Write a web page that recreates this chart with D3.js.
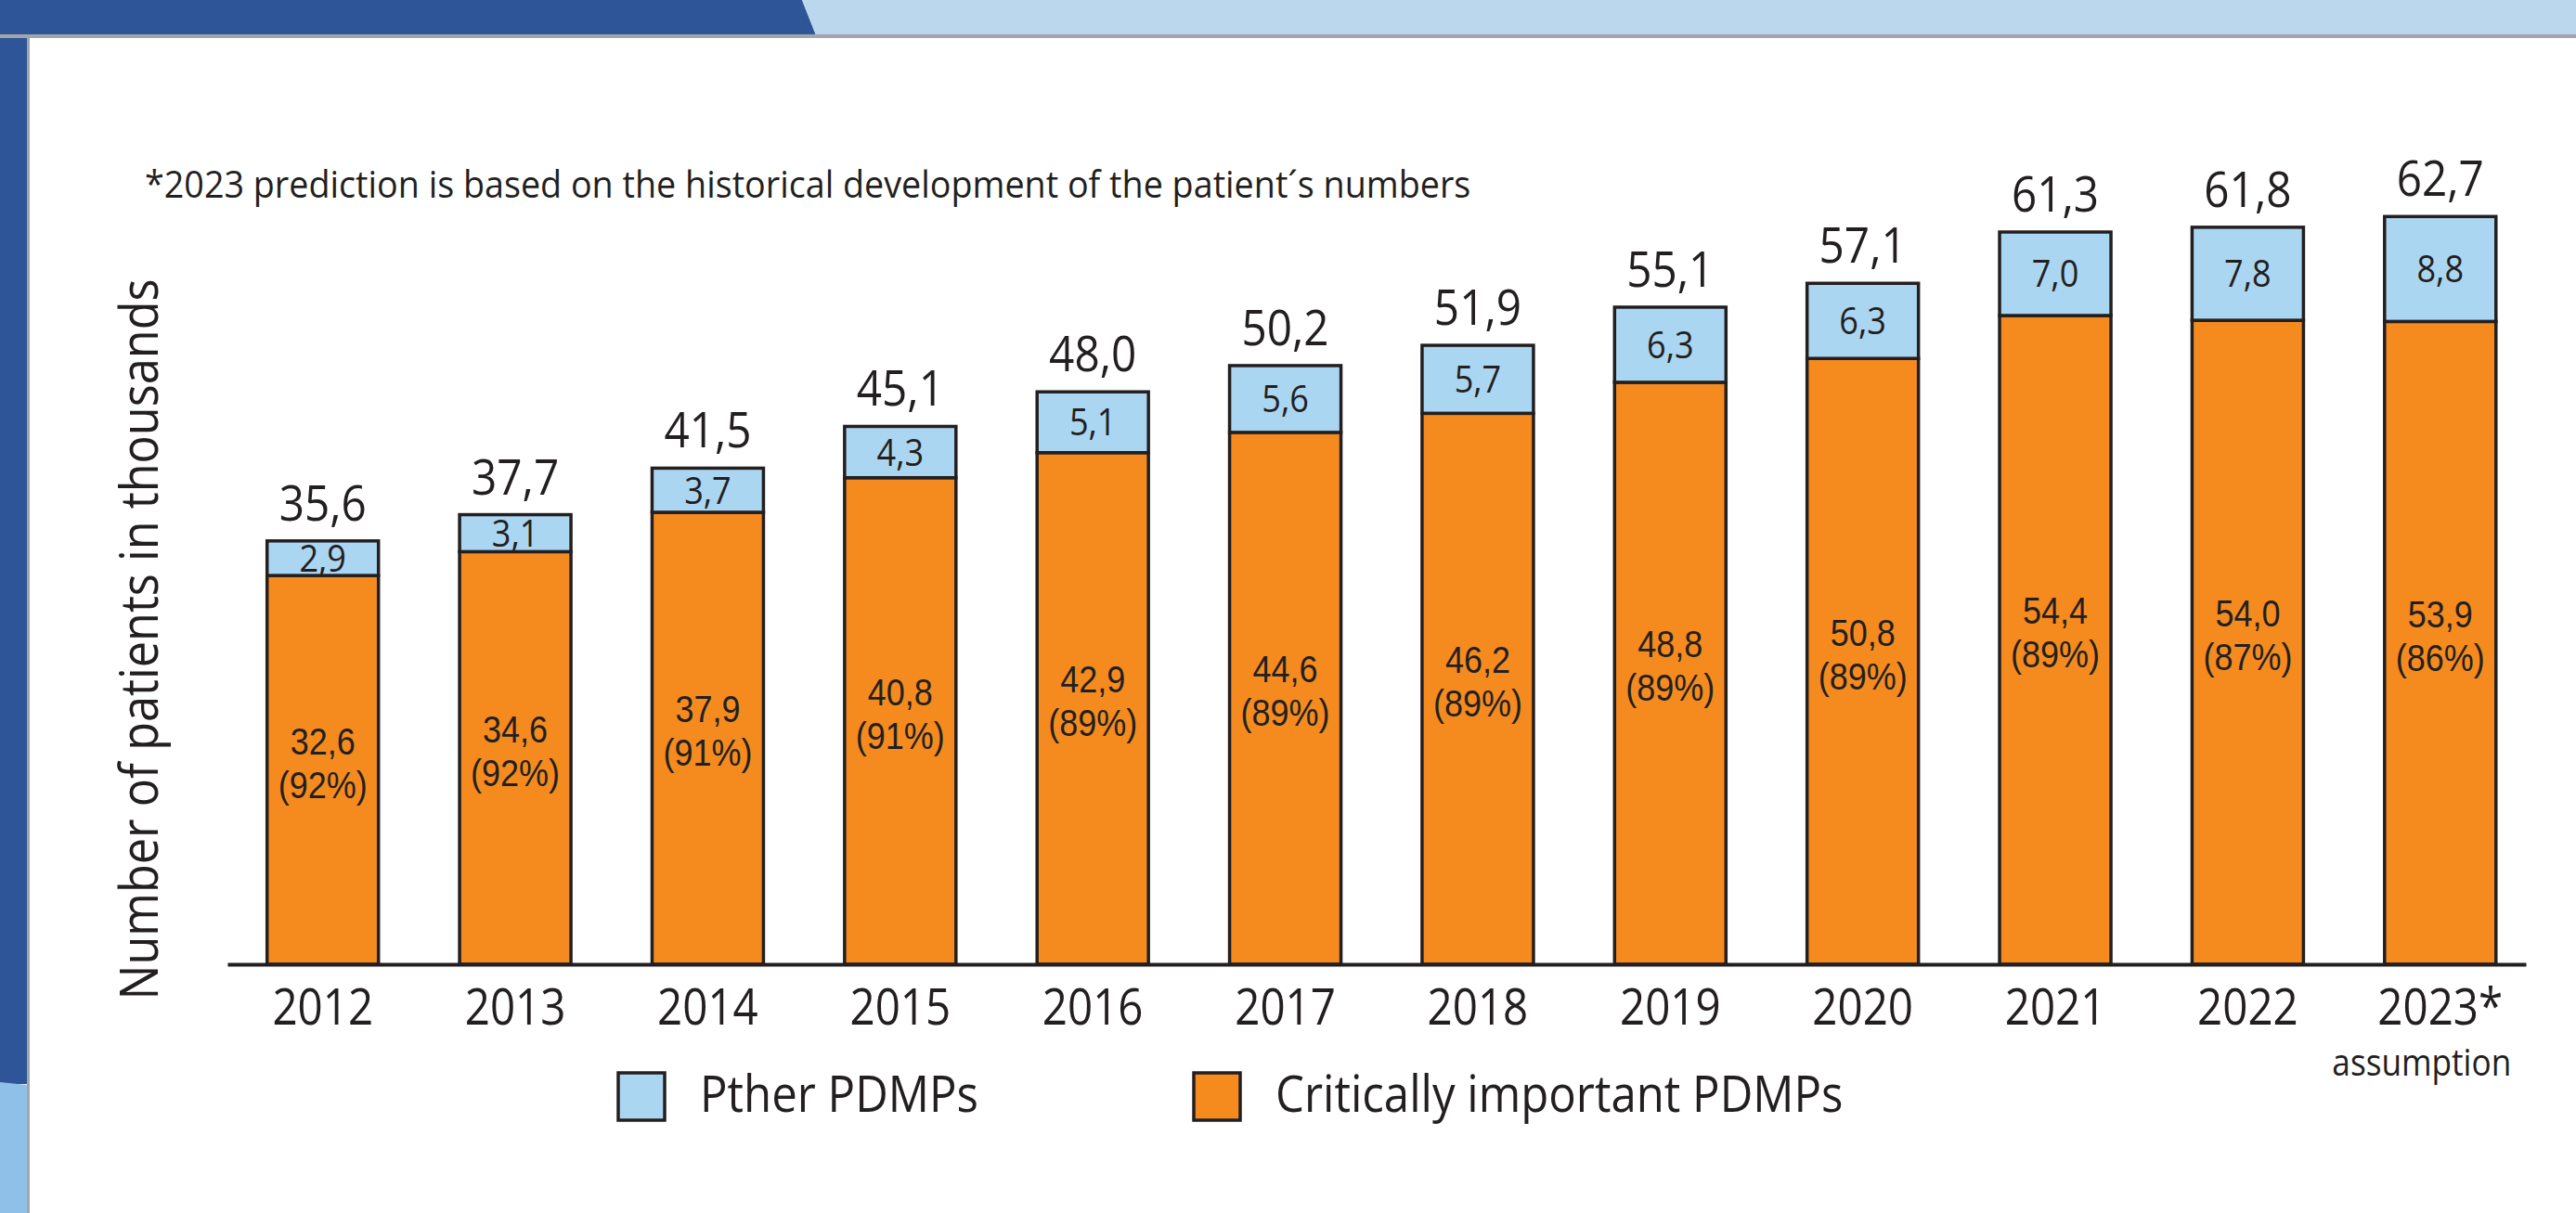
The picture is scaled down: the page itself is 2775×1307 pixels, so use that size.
<!DOCTYPE html>
<html>
<head>
<meta charset="utf-8">
<script src="https://cdn.jsdelivr.net/npm/d3@7"></script>
<style>
  body { margin: 0; background: #fff; }
  svg { display: block; }
  text { font-family: "Open Sans", "Noto Sans", sans-serif; fill: #231f20; }
  text.share { font-family: "Liberation Sans", Arial, sans-serif; }
</style>
</head>
<body>
<div id="chart"></div>
<script>
var years = ['2012', '2013', '2014', '2015', '2016', '2017', '2018', '2019', '2020', '2021', '2022', '2023*'];
var critical = [32.6, 34.6, 37.9, 40.8, 42.9, 44.6, 46.2, 48.8, 50.8, 54.4, 54.0, 53.9];
var other = [2.9, 3.1, 3.7, 4.3, 5.1, 5.6, 5.7, 6.3, 6.3, 7.0, 7.8, 8.8];
var totals = [35.6, 37.7, 41.5, 45.1, 48.0, 50.2, 51.9, 55.1, 57.1, 61.3, 61.8, 62.7];
var shares = [92, 92, 91, 91, 89, 89, 89, 89, 89, 89, 87, 86];
var legendLabels = ['Pther PDMPs', 'Critically important PDMPs'];
var note = '*2023 prediction is based on the historical development of the patient\u00b4s numbers';
var yTitle = 'Number of patients in thousands';
var lastNote = 'assumption';

var W = 2775, H = 1307;
var ORANGE = '#f58b1f', BLUE = '#abd6f1', INK = '#231f20';
var SX = 0.88; // the original face is a bit narrower than Open Sans

var fmt = d3.formatLocale({ decimal: ',', thousands: '.', grouping: [3], currency: ['', ''] }).format('.1f');

var svg = d3.select('#chart').append('svg')
    .attr('width', W)
    .attr('height', H);

// page frame: blue bands on top and left, grey edge round the white panel
svg.append('rect').attr('width', W).attr('height', H).attr('fill', '#fff');
svg.append('polygon').attr('points', '0,0 864,0 879,38 0,38').attr('fill', '#2e5597');
svg.append('polygon').attr('points', '864,0 ' + W + ',0 ' + W + ',38 879,38').attr('fill', '#bad7ee');
svg.append('rect').attr('x', 0).attr('y', 0).attr('width', 29).attr('height', 1168).attr('fill', '#2e5597');
svg.append('polygon').attr('points', '0,1166 29,1169 29,' + H + ' 0,' + H).attr('fill', '#8ec0e8');
svg.append('rect').attr('x', 0).attr('y', 37).attr('width', W).attr('height', 4).attr('fill', '#a2a6aa');
svg.append('rect').attr('x', 29).attr('y', 37).attr('width', 3).attr('height', H - 37).attr('fill', '#a2a6aa');

function label(g, x, y, s, size, anchor, sx) {
  return g.append('text')
      .attr('transform', 'translate(' + x + ',' + y + ') scale(' + (sx || SX) + ',1)')
      .attr('text-anchor', anchor || 'middle')
      .attr('font-size', size)
      .text(s);
}

var x = d3.scaleBand()
    .domain(years)
    .range([245, 2721])
    .paddingInner(0.4214)
    .paddingOuter(0.1807)
    .align(0.57);

var y = d3.scaleLinear()
    .domain([0, 70])
    .range([1039, 1039 - 70 * 12.85]);

var rows = years.map(function(yr, i) {
  return { year: yr, critical: critical[i], other: other[i], total: totals[i], share: shares[i] };
});

var stack = d3.stack().keys(['critical', 'other'])(rows);
var fills = { critical: ORANGE, other: BLUE };

var bars = svg.append('g');
stack.forEach(function(layer) {
  bars.selectAll(null)
      .data(layer)
    .enter().append('rect')
      .attr('x', function(d) { return x(d.data.year); })
      .attr('y', function(d) { return y(d[1]); })
      .attr('width', x.bandwidth())
      .attr('height', function(d) { return y(d[0]) - y(d[1]); })
      .attr('fill', fills[layer.key])
      .attr('stroke', INK)
      .attr('stroke-width', 3.5);
});

// axis with the year labels
var axis = svg.append('g')
    .attr('transform', 'translate(0,' + y(0) + ')')
    .call(d3.axisBottom(x).tickSize(0).tickSizeOuter(0));
axis.attr('font-family', null).attr('font-size', null);
axis.select('.domain').attr('stroke', INK).attr('stroke-width', 4);
axis.selectAll('.tick text')
    .attr('y', 65)
    .attr('dy', null)
    .attr('font-size', 54)
    .attr('fill', INK)
    .attr('transform', 'scale(' + SX + ',1)');

var labels = svg.append('g');
rows.forEach(function(d) {
  var cx = x(d.year) + x.bandwidth() / 2;
  var top = y(d.critical + d.other);
  label(labels, cx, top - 22, fmt(d.total), 53, 'middle', 0.9);
  var bm = (y(d.critical + d.other) + y(d.critical)) / 2;
  label(labels, cx, bm + 14.5, fmt(d.other), 41);
  // value and share on two lines inside the orange part
  var om = (y(d.critical) + y(0)) / 2;
  label(labels, cx, om - 17, fmt(d.critical), 40, 'middle', 0.9).attr('class', 'share');
  label(labels, cx, om + 30, '(' + d.share + '%)', 40, 'middle', 0.9).attr('class', 'share');
});

var lastYear = years[years.length - 1];
label(svg, x(lastYear) + x.bandwidth() / 2 - 20, 1159, lastNote, 40);

label(svg, 156, 213, note, 41, 'start', 0.92);

svg.append('text')
    .attr('transform', 'translate(170,689) rotate(-90) scale(0.9,1)')
    .attr('text-anchor', 'middle')
    .attr('font-size', 56)
    .text(yTitle);

// legend
var legendX = [666, 1286];
var legendFill = [BLUE, ORANGE];
var legend = svg.append('g');
legendLabels.forEach(function(s, i) {
  legend.append('rect')
      .attr('x', legendX[i])
      .attr('y', 1156)
      .attr('width', 50)
      .attr('height', 51)
      .attr('fill', legendFill[i])
      .attr('stroke', INK)
      .attr('stroke-width', 3.5);
  label(legend, legendX[i] + 88, 1198, s, 54, 'start', 0.91);
});
</script>
</body>
</html>
